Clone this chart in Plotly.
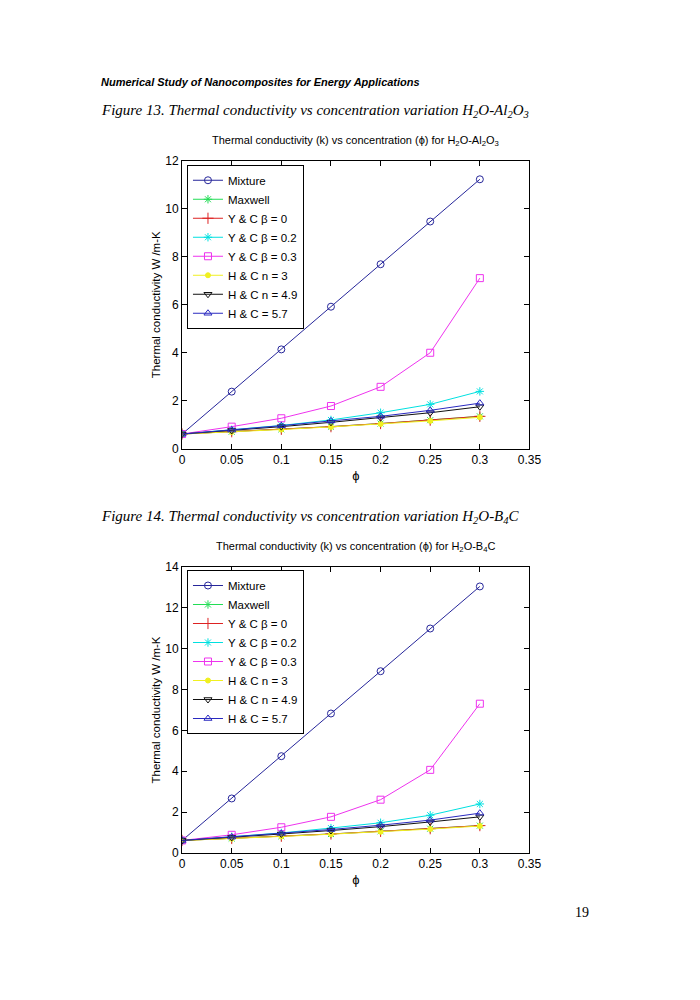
import plotly.graph_objects as go

phi = [0, 0.05, 0.1, 0.15, 0.2, 0.25, 0.3]

# Figure 13: H2O-Al2O3
al_mixture = [0.613, 2.38, 4.14, 5.92, 7.69, 9.47, 11.23]
al_maxwell = [0.613, 0.71, 0.81, 0.92, 1.05, 1.19, 1.35]
al_yc0 = [0.613, 0.71, 0.81, 0.92, 1.05, 1.19, 1.35]
al_yc02 = [0.613, 0.79, 0.97, 1.20, 1.50, 1.85, 2.39]
al_yc03 = [0.613, 0.92, 1.27, 1.78, 2.58, 4.00, 7.11]
al_hc3 = [0.613, 0.70, 0.80, 0.91, 1.03, 1.16, 1.31]
al_hc49 = [0.613, 0.76, 0.92, 1.10, 1.29, 1.50, 1.75]
al_hc57 = [0.613, 0.78, 0.96, 1.16, 1.35, 1.60, 1.90]

# Figure 14: H2O-B4C
b_mixture = [0.613, 2.67, 4.74, 6.83, 8.90, 10.99, 13.05]
b_maxwell = [0.613, 0.71, 0.82, 0.93, 1.06, 1.19, 1.34]
b_yc0 = [0.613, 0.71, 0.82, 0.93, 1.06, 1.19, 1.34]
b_yc02 = [0.613, 0.79, 0.98, 1.22, 1.48, 1.85, 2.40]
b_yc03 = [0.613, 0.89, 1.26, 1.77, 2.61, 4.07, 7.31]
b_hc3 = [0.613, 0.70, 0.81, 0.92, 1.04, 1.17, 1.32]
b_hc49 = [0.613, 0.76, 0.93, 1.10, 1.29, 1.52, 1.77]
b_hc57 = [0.613, 0.78, 0.96, 1.15, 1.36, 1.61, 1.95]

series_names = ["Mixture", "Maxwell", "Y & C β = 0", "Y & C β = 0.2", "Y & C β = 0.3",
                "H & C n = 3", "H & C n = 4.9", "H & C = 5.7"]
colors = ["#26269a", "#22dd55", "#dd2222", "#00e0e0", "#ee33ee", "#f0f020", "#111111", "#2a2ac0"]
symbols = ["circle-open", "asterisk-open", "cross-thin-open", "asterisk-open", "square-open",
           "circle", "triangle-down-open", "triangle-up-open"]
sizes = [7, 7, 8, 7, 7, 5, 7, 7]

datasets = [
    [al_mixture, al_maxwell, al_yc0, al_yc02, al_yc03, al_hc3, al_hc49, al_hc57],
    [b_mixture, b_maxwell, b_yc0, b_yc02, b_yc03, b_hc3, b_hc49, b_hc57],
]

FONT = "Liberation Sans, Arial, sans-serif"
fig = go.Figure()

for i, ds in enumerate(datasets):
    xa = "x" if i == 0 else "x2"
    ya = "y" if i == 0 else "y2"
    lg = "legend" if i == 0 else "legend2"
    for name, vals, c, s, sz in zip(series_names, ds, colors, symbols, sizes):
        fig.add_trace(go.Scatter(
            x=phi, y=vals, name=name, mode="lines+markers",
            line=dict(color=c, width=1),
            marker=dict(symbol=s, size=sz, color=c, line=dict(color=c, width=1)),
            xaxis=xa, yaxis=ya, legend=lg,
        ))

axis_common = dict(
    showline=True, linecolor="black", linewidth=1, mirror="ticks",
    ticks="inside", ticklen=5, tickcolor="black", showgrid=False, zeroline=False,
    tickfont=dict(family=FONT, size=12, color="black"),
)

dom_x = [183 / 700, 538 / 700]
fig.update_layout(
    width=700, height=1000,
    margin=dict(l=0, r=0, t=0, b=0),
    paper_bgcolor="white", plot_bgcolor="white",
    xaxis=dict(domain=dom_x, anchor="y", range=[0, 0.35], dtick=0.05,
               title=dict(text="ϕ", font=dict(family=FONT, size=13, color="black"), standoff=4),
               **axis_common),
    yaxis=dict(domain=[1 - 448 / 1000, 1 - 156 / 1000], anchor="x", range=[0, 12], dtick=2,
               title=dict(text="Thermal conductivity W /m-K", font=dict(family=FONT, size=11.5, color="black"), standoff=2),
               **axis_common),
    xaxis2=dict(domain=dom_x, anchor="y2", range=[0, 0.35], dtick=0.05,
                title=dict(text="ϕ", font=dict(family=FONT, size=13, color="black"), standoff=4),
                **axis_common),
    yaxis2=dict(domain=[1 - 858 / 1000, 1 - 568 / 1000], anchor="x2", range=[0, 14], dtick=2,
                title=dict(text="Thermal conductivity W /m-K", font=dict(family=FONT, size=11.5, color="black"), standoff=2),
                **axis_common),
    legend=dict(x=188 / 700, y=1 - 160 / 1000, xanchor="left", yanchor="top",
                bgcolor="white", bordercolor="black", borderwidth=1,
                font=dict(family=FONT, size=11.5, color="black"), itemwidth=30,
                tracegroupgap=0),
    legend2=dict(x=188 / 700, y=1 - 571 / 1000, xanchor="left", yanchor="top",
                 bgcolor="white", bordercolor="black", borderwidth=1,
                 font=dict(family=FONT, size=11.5, color="black"), itemwidth=30,
                 tracegroupgap=0),
    showlegend=True,
)

def text(x, y, s, size, family, anchor="left", color="black"):
    fig.add_annotation(x=x / 700, y=1 - y / 1000, xref="paper", yref="paper",
                       text=s, showarrow=False, xanchor=anchor, yanchor="middle",
                       font=dict(family=family, size=size, color=color))

SERIF = "Liberation Serif, Times New Roman, serif"
text(98, 76, "<b><i>Numerical Study of Nanocomposites for Energy Applications</i></b>", 11, FONT)
text(98, 105, "<i>Figure 13. Thermal conductivity vs concentration variation H<sub>2</sub>O-Al<sub>2</sub>O<sub>3</sub></i>", 15, SERIF)
text(360, 136, "Thermal conductivity (k) vs concentration (ϕ) for H<sub>2</sub>O-Al<sub>2</sub>O<sub>3</sub>", 11, FONT, anchor="center")
text(98, 517, "<i>Figure 14. Thermal conductivity vs concentration variation H<sub>2</sub>O-B<sub>4</sub>C</i>", 15, SERIF)
text(360, 548, "Thermal conductivity (k) vs concentration (ϕ) for H<sub>2</sub>O-B<sub>4</sub>C", 11, FONT, anchor="center")
text(592, 918, "19", 14, SERIF, anchor="center")

fig.write_html("out.html", config={"displayModeBar": False},
               post_script="document.body.style.margin='0px';document.body.style.overflow='hidden';")
